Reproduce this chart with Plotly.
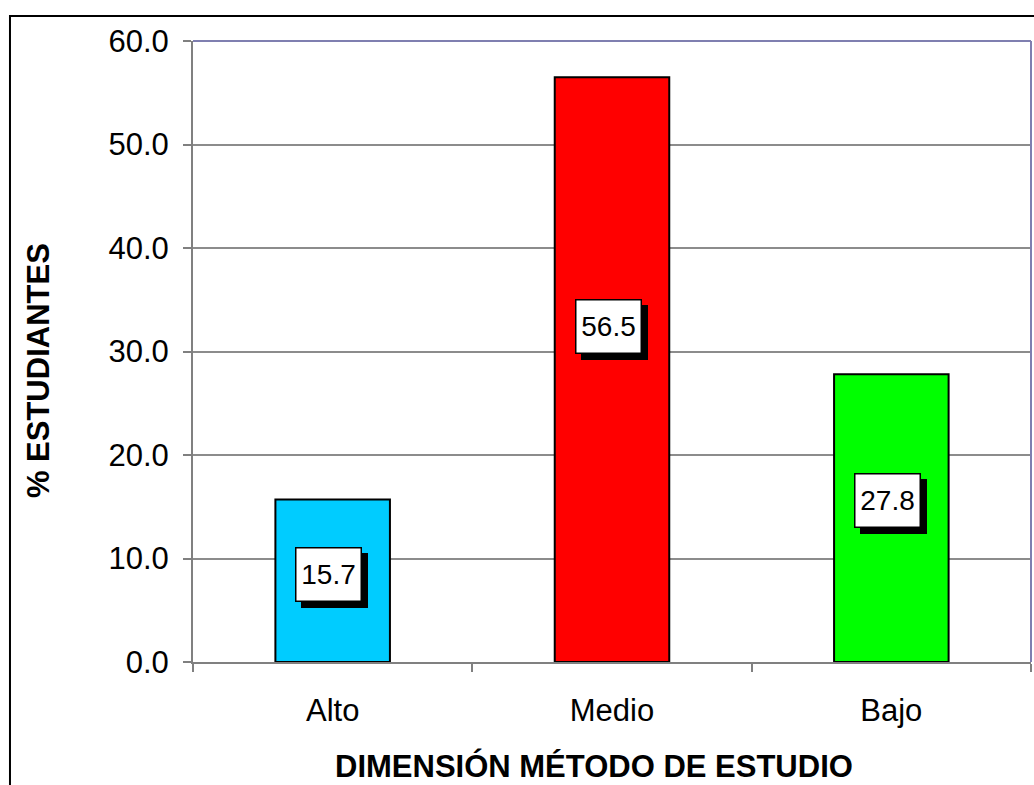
import plotly.graph_objects as go

categories = ["Alto", "Medio", "Bajo"]
values = [15.7, 56.5, 27.8]
bar_colors = ["#00CCFF", "#FF0000", "#00FF00"]
label_pos_frac = [0.538, 0.574, 0.563]  # label placement as fraction of bar height
y_ticks = [0, 10, 20, 30, 40, 50, 60]

FONT = "Liberation Sans, Arial, sans-serif"

fig = go.Figure()
fig.add_trace(go.Bar(
    x=categories, y=values,
    marker=dict(color=bar_colors, line=dict(color="black", width=2)),
    hoverinfo="skip",
))

# value labels with drop shadow
for cat, v, f in zip(categories, values, label_pos_frac):
    ylab = v * f
    fig.add_annotation(x=cat, y=ylab, text=" ", showarrow=False,
                       bgcolor="black", width=62, height=50, borderpad=1,
                       borderwidth=1.5, bordercolor="black",
                       xshift=2, yshift=-6, font=dict(size=28, family=FONT))
    fig.add_annotation(x=cat, y=ylab, text=f"{v:.1f}", showarrow=False,
                       bgcolor="white", width=62, height=50, borderpad=1,
                       borderwidth=1.5, bordercolor="black",
                       xshift=-4, font=dict(size=28, family=FONT, color="black"))

# axis titles
fig.add_annotation(xref="paper", yref="paper", x=0.4785, y=-0.1675,
                   text="<b>DIMENSIÓN MÉTODO DE ESTUDIO</b>", showarrow=False,
                   xanchor="center", yanchor="middle",
                   font=dict(size=31, family=FONT, color="black"))
fig.add_annotation(xref="paper", yref="paper", x=-0.185, y=0.470,
                   text="<b>% ESTUDIANTES</b>", showarrow=False, textangle=-90,
                   xanchor="center", yanchor="middle",
                   font=dict(size=31, family=FONT, color="black"))

# plot area top/right border (purple-gray)
fig.add_shape(type="line", xref="paper", yref="paper", x0=0, x1=1, y0=1, y1=1,
              line=dict(color="#7F7FB0", width=2), layer="above")
fig.add_shape(type="line", xref="paper", yref="paper", x0=1, x1=1, y0=0, y1=1,
              line=dict(color="#7F7FB0", width=2), layer="above")
# outer chart border (black, top and left)
fig.add_shape(type="path", xref="paper", yref="paper",
              path="M -0.2184,-0.25 L -0.2184,1.0403 L 1.01,1.0403",
              line=dict(color="black", width=2))

fig.update_layout(
    width=1034, height=785,
    margin=dict(l=193, r=3, t=41, b=123),
    paper_bgcolor="white", plot_bgcolor="white",
    bargap=0.59,
    showlegend=False,
    font=dict(family=FONT, color="black", size=31),
)
fig.update_xaxes(
    showline=True, linecolor="#808080", linewidth=2,
    ticks="outside", tickson="boundaries", ticklen=8, tickcolor="#808080", tickwidth=2,
    tickfont=dict(size=31, family=FONT), ticklabelstandoff=20,
    showgrid=False, fixedrange=True,
)
fig.update_yaxes(
    range=[0, 60], tickvals=y_ticks, tickformat=".1f",
    showline=True, linecolor="#808080", linewidth=2,
    ticks="outside", ticklen=8, tickcolor="#808080", tickwidth=2,
    tickfont=dict(size=31, family=FONT), ticklabelstandoff=8,
    showgrid=True, gridcolor="#8C8C8C", gridwidth=1.5,
    zeroline=False, fixedrange=True,
)

fig.write_html("out.html", config={"displayModeBar": False},
               post_script="document.body.style.margin='0px';document.body.style.overflow='hidden';")
